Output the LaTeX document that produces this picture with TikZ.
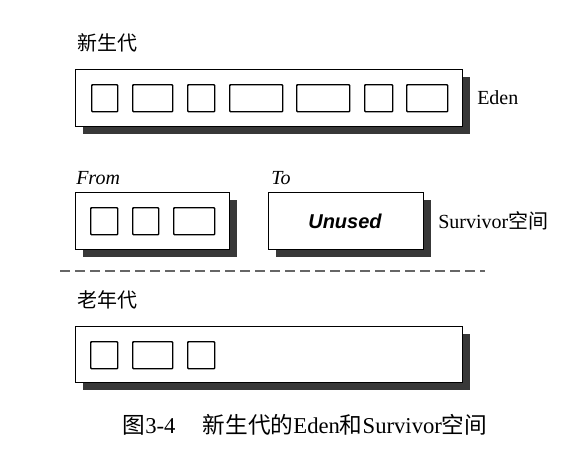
\documentclass[tikz,border=0pt]{standalone}
\usepackage{fontspec}
\setmainfont{Liberation Serif}
\newfontfamily\cjk{Noto Sans CJK SC}
\newfontfamily\arialf{Liberation Sans}
\usetikzlibrary{shadows}
\begin{document}
\begin{tikzpicture}[x=0.75pt,y=-0.75pt,
  outer/.style={draw=black, line width=1.1pt, fill=white, anchor=north west, inner sep=0pt,
    drop shadow={shadow xshift=5.5pt, shadow yshift=-5.5pt, fill=black!78, opacity=1}},
  cell/.style={draw=black, line width=1.1pt, fill=white, anchor=north west, inner sep=0pt,
    rounded corners=0.6pt, minimum height=20.25pt},
  lbl/.style={anchor=west, inner sep=0pt, font=\fontsize{15}{18}\selectfont},
  cjklbl/.style={anchor=west, inner sep=0pt, font=\cjk\fontsize{15}{18}\selectfont},
  sep/.style={draw=black!60, line width=0.8pt, dash pattern=on 7.5pt off 3.75pt}
]
\useasboundingbox (0,0) rectangle (564,464);
% Young generation
\node[cjklbl] (young) at (77,43) {新生代};
\node[outer, minimum width={387*0.75pt}, minimum height={57*0.75pt}] (eden) at (75,69) {};
\node[cell, minimum width={26*0.75pt}] (e1) at (91,84) {};
\node[cell, minimum width={40*0.75pt}] (e2) at (132,84) {};
\node[cell, minimum width={27*0.75pt}] (e3) at (187,84) {};
\node[cell, minimum width={53*0.75pt}] (e4) at (229,84) {};
\node[cell, minimum width={53*0.75pt}] (e5) at (296,84) {};
\node[cell, minimum width={28*0.75pt}] (e6) at (364,84) {};
\node[cell, minimum width={41*0.75pt}] (e7) at (406,84) {};
\node[lbl] (edenlbl) at (477,98) {Eden};
% Survivor
\node[lbl, font=\itshape\fontsize{15}{18}\selectfont] (fromlbl) at (76,178) {From};
\node[lbl, font=\itshape\fontsize{15}{18}\selectfont] (tolbl) at (271,178) {To};
\node[outer, minimum width={154*0.75pt}, minimum height={57*0.75pt}] (from) at (75,192) {};
\node[cell, minimum width={27*0.75pt}] (f1) at (90,207) {};
\node[cell, minimum width={26*0.75pt}] (f2) at (132,207) {};
\node[cell, minimum width={41*0.75pt}] (f3) at (173,207) {};
\node[outer, minimum width={155*0.75pt}, minimum height={57*0.75pt}] (to) at (268,192) {};
\node[inner sep=0pt, font=\arialf\bfseries\itshape\fontsize{15}{18}\selectfont] (unused) at (345,221) {Unused};
\node[lbl] (survlbl) at (438,221) {Survivor{\cjk 空间}};
% Separator
\coordinate (sepA) at (60,271);
\coordinate (sepB) at (485,271);
\draw[sep] (sepA) -- (sepB);
% Old generation
\node[cjklbl] (old) at (77,300) {老年代};
\node[outer, minimum width={387*0.75pt}, minimum height={56*0.75pt}] (tenured) at (75,326) {};
\node[cell, minimum width={27*0.75pt}] (o1) at (90,341) {};
\node[cell, minimum width={40*0.75pt}] (o2) at (132,341) {};
\node[cell, minimum width={27*0.75pt}] (o3) at (187,341) {};
% Caption
\node[inner sep=0pt, font=\fontsize{17}{20}\selectfont] (caption) at (305,425) {{\cjk 图}3-4\hspace{1.2em}{\cjk 新生代的}Eden{\cjk 和}Survivor{\cjk 空间}};
\end{tikzpicture}
\end{document}
